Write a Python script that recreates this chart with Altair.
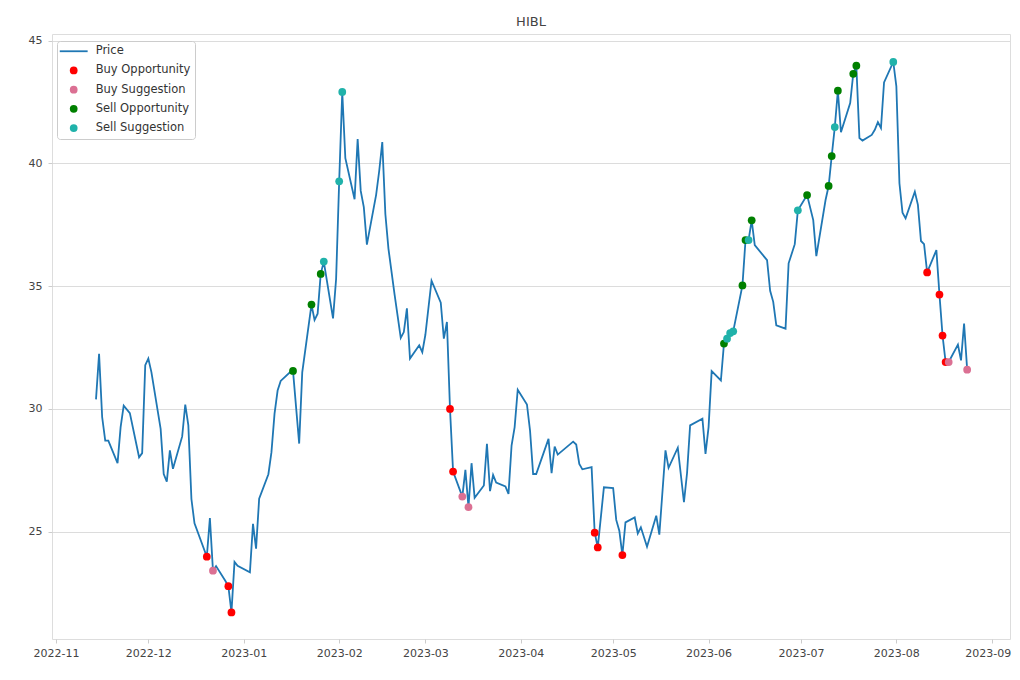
import altair as alt
import pandas as pd

TITLE = "HIBL"

dates = [
    "2022-11-14", "2022-11-15", "2022-11-16", "2022-11-17", "2022-11-18",
    "2022-11-21", "2022-11-22", "2022-11-23", "2022-11-25",
    "2022-11-28", "2022-11-29", "2022-11-30", "2022-12-01", "2022-12-02",
    "2022-12-05", "2022-12-06", "2022-12-07", "2022-12-08", "2022-12-09",
    "2022-12-12", "2022-12-13", "2022-12-14", "2022-12-15", "2022-12-16",
    "2022-12-20", "2022-12-21", "2022-12-22", "2022-12-23",
    "2022-12-26", "2022-12-27", "2022-12-28", "2022-12-29", "2022-12-30",
    "2023-01-03", "2023-01-04", "2023-01-05", "2023-01-06",
    "2023-01-09", "2023-01-10", "2023-01-11", "2023-01-12", "2023-01-13",
    "2023-01-16", "2023-01-17", "2023-01-19", "2023-01-20",
    "2023-01-23", "2023-01-24", "2023-01-25", "2023-01-26", "2023-01-27",
    "2023-01-30", "2023-01-31", "2023-02-01", "2023-02-02", "2023-02-03",
    "2023-02-06", "2023-02-07", "2023-02-08", "2023-02-09", "2023-02-10",
    "2023-02-13", "2023-02-14", "2023-02-15", "2023-02-16", "2023-02-17",
    "2023-02-19", "2023-02-21", "2023-02-22", "2023-02-23", "2023-02-24",
    "2023-02-27", "2023-02-28", "2023-03-01", "2023-03-03",
    "2023-03-06", "2023-03-07", "2023-03-08", "2023-03-09", "2023-03-10",
    "2023-03-13", "2023-03-14", "2023-03-15", "2023-03-16", "2023-03-17",
    "2023-03-20", "2023-03-21", "2023-03-22", "2023-03-23", "2023-03-24",
    "2023-03-27", "2023-03-28", "2023-03-29", "2023-03-30", "2023-03-31",
    "2023-04-03", "2023-04-04", "2023-04-05", "2023-04-06",
    "2023-04-10", "2023-04-11", "2023-04-12", "2023-04-13",
    "2023-04-18", "2023-04-19", "2023-04-20", "2023-04-21",
    "2023-04-24", "2023-04-25", "2023-04-26", "2023-04-28",
    "2023-05-01", "2023-05-02", "2023-05-03", "2023-05-04", "2023-05-05",
    "2023-05-08", "2023-05-09", "2023-05-10", "2023-05-12",
    "2023-05-15", "2023-05-16", "2023-05-18", "2023-05-19",
    "2023-05-22", "2023-05-24", "2023-05-25", "2023-05-26",
    "2023-05-30", "2023-05-31", "2023-06-01", "2023-06-02",
    "2023-06-05", "2023-06-06", "2023-06-07", "2023-06-08", "2023-06-09",
    "2023-06-12", "2023-06-13", "2023-06-14", "2023-06-15", "2023-06-16",
    "2023-06-20", "2023-06-21", "2023-06-22", "2023-06-23",
    "2023-06-26", "2023-06-27", "2023-06-29", "2023-06-30",
    "2023-07-03", "2023-07-05", "2023-07-06",
    "2023-07-09", "2023-07-10", "2023-07-11", "2023-07-12", "2023-07-13", "2023-07-14",
    "2023-07-17", "2023-07-18", "2023-07-19", "2023-07-20", "2023-07-21",
    "2023-07-24", "2023-07-25", "2023-07-26", "2023-07-27", "2023-07-28",
    "2023-07-31", "2023-08-01", "2023-08-02", "2023-08-03", "2023-08-04",
    "2023-08-07", "2023-08-08", "2023-08-09", "2023-08-10", "2023-08-11",
    "2023-08-14", "2023-08-15", "2023-08-16", "2023-08-17", "2023-08-18",
    "2023-08-21", "2023-08-22", "2023-08-23", "2023-08-24",
]

prices = [
    30.39, 32.25, 29.67, 28.71, 28.71,
    27.79, 29.26, 30.13, 29.83,
    28.03, 28.20, 31.78, 32.05, 31.50,
    29.19, 27.35, 27.04, 28.31, 27.56,
    28.88, 30.18, 29.33, 26.33, 25.34,
    23.98, 25.56, 23.41, 23.60,
    23.00, 22.78, 21.71, 23.77, 23.61,
    23.35, 25.32, 24.31, 26.34,
    27.34, 28.24, 29.81, 30.75, 31.14,
    31.49, 31.55, 28.59, 31.49,
    34.25, 33.62, 33.88, 35.50, 36.00,
    33.69, 35.29, 39.27, 42.91, 40.21,
    38.54, 40.99, 38.88, 38.22, 36.69,
    38.72, 39.69, 40.87, 37.94, 36.53,
    34.66, 32.89, 33.13, 34.10, 32.05,
    32.59, 32.31, 33.02, 35.22,
    34.33, 32.86, 33.54, 30.00, 27.45,
    26.43, 27.52, 26.00, 27.79, 26.38,
    26.88, 28.58, 26.65, 27.31, 27.00,
    26.84, 26.54, 28.51, 29.26, 30.78,
    30.18, 29.12, 27.35, 27.35,
    28.78, 27.38, 28.47, 28.14,
    28.67, 28.55, 27.76, 27.54,
    27.63, 24.96, 24.36, 26.81,
    26.78, 25.48, 25.04, 24.05, 25.38,
    25.58, 24.93, 25.18, 24.39,
    25.65, 24.88, 28.31, 27.60,
    28.42, 26.20, 27.38, 29.33,
    29.60, 28.17, 29.26, 31.54,
    31.16, 32.66, 32.86, 33.09, 33.16,
    35.03, 36.88, 36.88, 37.68, 36.67,
    36.06, 34.81, 34.36, 33.40,
    33.27, 35.93, 36.71, 38.09,
    38.71, 37.69, 36.22,
    38.51, 39.08, 40.30, 41.48, 42.96, 41.27,
    42.46, 43.65, 43.98, 41.03, 40.93,
    41.16, 41.37, 41.68, 41.44, 43.30,
    44.13, 43.14, 39.19, 37.99, 37.76,
    38.85, 38.31, 36.84, 36.71, 35.56,
    36.47, 34.66, 32.99, 31.91, 31.91,
    32.62, 31.98, 33.48, 31.60,
]

buy_opportunity = ["2022-12-20", "2022-12-27", "2022-12-28", "2023-03-09", "2023-03-10",
                   "2023-04-25", "2023-04-26", "2023-05-04", "2023-08-11", "2023-08-15",
                   "2023-08-16", "2023-08-17"]
buy_suggestion = ["2022-12-22", "2023-03-13", "2023-03-15", "2023-08-18", "2023-08-24"]
sell_opportunity = ["2023-01-17", "2023-01-23", "2023-01-26", "2023-06-06", "2023-06-12",
                    "2023-06-13", "2023-06-15", "2023-07-03", "2023-07-10", "2023-07-11",
                    "2023-07-13", "2023-07-18", "2023-07-19"]
sell_suggestion = ["2023-01-27", "2023-02-01", "2023-02-02", "2023-06-07", "2023-06-08",
                   "2023-06-09", "2023-06-14", "2023-06-30", "2023-07-12", "2023-07-31"]

categories = ["Price", "Buy Opportunity", "Buy Suggestion", "Sell Opportunity", "Sell Suggestion"]
colors = ["#1f77b4", "#ff0000", "#db7093", "#008000", "#20b2aa"]
month_ticks = [(2022, 11), (2022, 12), (2023, 1), (2023, 2), (2023, 3), (2023, 4),
               (2023, 5), (2023, 6), (2023, 7), (2023, 8), (2023, 9)]
y_ticks = [25, 30, 35, 40, 45]

assert len(dates) == len(prices)
price_df = pd.DataFrame({"date": dates, "price": prices})
lookup = dict(zip(dates, prices))
rows = []
for cat, ds in zip(categories[1:], [buy_opportunity, buy_suggestion, sell_opportunity, sell_suggestion]):
    for d in ds:
        rows.append({"date": d, "price": lookup[d], "signal": cat})
sig_df = pd.DataFrame(rows)

FONT = "DejaVu Sans"
x_scale = alt.Scale(
    type="utc",
    domain=[alt.DateTime(year=2022, month=10, date=30, hours=17, utc=True),
            alt.DateTime(year=2023, month=9, date=6, hours=22, utc=True)],
)
y_scale = alt.Scale(domain=[20.63, 45.27], nice=False, zero=False)

x_axis = alt.Axis(
    values=[alt.DateTime(year=y, month=m, date=1, utc=True) for y, m in month_ticks],
    format="%Y-%m", title=None, grid=False, domain=False,
    tickColor="#cccccc", tickSize=4, labelPadding=4,
    labelOffset=alt.ExprRef("datum.index >= 0.999 ? -4 : 0"),
    labelFont=FONT, labelFontSize=11, labelColor="#444444",
)
y_axis = alt.Axis(
    values=y_ticks, format="d", title=None, grid=True, gridColor="#dcdcdc", gridWidth=1,
    domain=False, tickColor="#cccccc", tickSize=4, labelPadding=6,
    labelFont=FONT, labelFontSize=11, labelColor="#444444",
)

line = alt.Chart(price_df).mark_line(color=colors[0], strokeWidth=1.8).encode(
    x=alt.X("date:T", scale=x_scale, axis=x_axis),
    y=alt.Y("price:Q", scale=y_scale, axis=y_axis),
)

legend = alt.Legend(
    title=None, orient="none", legendX=5, legendY=7,
    fillColor="white", strokeColor="#cccccc", cornerRadius=3,
    padding=4.5, rowPadding=6.2,
    labelFont=FONT, labelFontSize=11.5, labelColor="#333333",
    labelOffset=16.2, symbolOffset=6.45, symbolSize=60, symbolOpacity=1,
    symbolType=alt.ExprRef("datum.value === 'Price' ? 'M-3.6,0H3.6' : 'circle'"),
    symbolStrokeColor=alt.ExprRef("datum.value === 'Price' ? '#1f77b4' : 'transparent'"),
    symbolStrokeWidth=alt.ExprRef("datum.value === 'Price' ? 1.8 : 0"),
)

points = alt.Chart(sig_df).mark_point(filled=True, size=60, opacity=1).encode(
    x=alt.X("date:T", scale=x_scale),
    y=alt.Y("price:Q", scale=y_scale),
    color=alt.Color("signal:N", scale=alt.Scale(domain=categories, range=colors),
                    legend=legend, sort=categories),
)

chart = (
    alt.layer(line, points)
    .properties(
        width=958, height=605,
        title=alt.Title(TITLE, fontSize=13, fontWeight="normal", font=FONT, color="#444444",
                        anchor="middle", frame="group", offset=5),
        autosize=alt.AutoSizeParams(type="none"),
        padding={"left": 44, "top": 26, "right": 2, "bottom": 30},
    )
    .configure_view(stroke="#cccccc", strokeWidth=1)
    .configure(font=FONT, background="white")
)

chart.save("out.html", embed_options={"renderer": "svg", "actions": False})
